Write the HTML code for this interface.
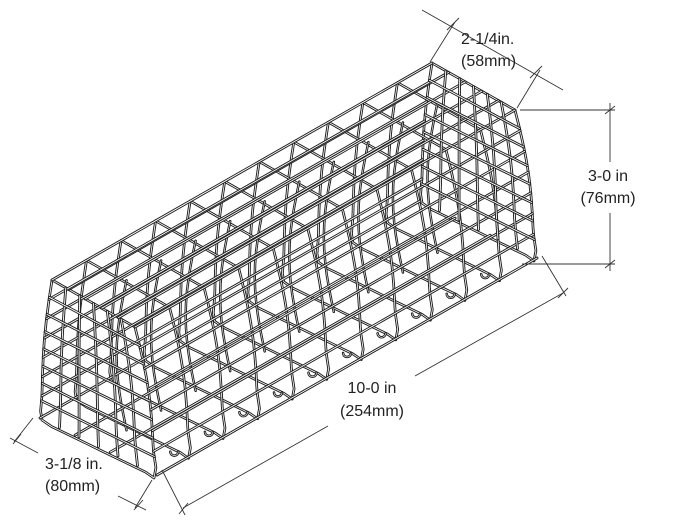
<!DOCTYPE html>
<html><head><meta charset="utf-8"><style>
html,body{margin:0;padding:0;background:#fff;width:684px;height:524px;overflow:hidden}
svg{display:block}
text{font-family:"Liberation Sans",sans-serif;font-size:16px;fill:#222}
</style></head><body>
<svg id="s" width="684" height="524" viewBox="0 0 684 524" xmlns="http://www.w3.org/2000/svg">
<g id="cage" fill="none" stroke-linejoin="round" stroke-linecap="round"></g>
<g stroke="#333" stroke-width="0.9" fill="none">
<line x1="430" y1="62" x2="455" y2="22"/>
<line x1="517" y1="108" x2="540" y2="70"/>
<line x1="422" y1="10" x2="563" y2="90"/>
<line x1="447" y1="30" x2="459" y2="18"/>
<line x1="530" y1="78" x2="542" y2="66"/>
<line x1="520" y1="110" x2="615" y2="110"/>
<line x1="522" y1="264" x2="615" y2="264"/>
<line x1="610" y1="103" x2="610" y2="162"/>
<line x1="610" y1="213" x2="610" y2="271"/>
<line x1="605" y1="114" x2="615" y2="106"/>
<line x1="605" y1="268" x2="615" y2="260"/>
<line x1="162" y1="470" x2="185" y2="515"/>
<line x1="542" y1="256" x2="566" y2="296"/>
<line x1="183" y1="508" x2="328" y2="426"/>
<line x1="415" y1="376" x2="563" y2="293"/>
<line x1="179" y1="514" x2="188" y2="503"/>
<line x1="558" y1="298" x2="568" y2="288"/>
<line x1="33" y1="418" x2="14" y2="442"/>
<line x1="152" y1="480" x2="135" y2="508"/>
<line x1="10" y1="438" x2="38" y2="453"/>
<line x1="118" y1="496" x2="146" y2="510"/>
<line x1="13" y1="444" x2="21" y2="434"/>
<line x1="134" y1="510" x2="143" y2="500"/>
</g>
<text x="461" y="44">2-1/4in.</text>
<text x="461" y="66">(58mm)</text>
<text x="608" y="181" text-anchor="middle">3-0 in</text>
<text x="608" y="203" text-anchor="middle">(76mm)</text>
<text x="372" y="393" text-anchor="middle">10-0 in</text>
<text x="372" y="416" text-anchor="middle">(254mm)</text>
<text x="45" y="469">3-1/8 in.</text>
<text x="45" y="491">(80mm)</text>
</svg>
<script>
(function(){
var g=document.getElementById('cage');
var L=[380,-217];
function lerp(a,b,t){return [a[0]+(b[0]-a[0])*t,a[1]+(b[1]-a[1])*t];}
var TL=[52,280],TR=[135,327],BL=[40,418],BR=[157,475];
function side(v,left){
  var a=left?TL:TR,b=left?BL:BR;
  var p=lerp(a,b,v);
  var bul=Math.sin(Math.PI*Math.min(v*1.2,1))*4;
  if(left)p[0]-=bul*0.6; else p[0]+=bul;
  return p;
}
function face(u,v){var l=side(v,true),r=side(v,false);return lerp(l,r,u);}
function add(pts,off,w){
  var d='';
  pts.forEach(function(p,i){d+=(i?'L':'M')+(p[0]+off[0]).toFixed(1)+' '+(p[1]+off[1]).toFixed(1);});
  var a=document.createElementNS('http://www.w3.org/2000/svg','path');
  a.setAttribute('d',d);a.setAttribute('stroke','#1e1e1e');a.setAttribute('stroke-width',w||2.8);
  g.appendChild(a);
  var b=document.createElementNS('http://www.w3.org/2000/svg','path');
  b.setAttribute('d',d);b.setAttribute('stroke','#fff');b.setAttribute('stroke-width',(w||2.8)-1.9);
  g.appendChild(b);
}
function ring(){
  var p=[];var i;
  for(i=0;i<=10;i++)p.push(face(i/10,0));
  for(i=1;i<=19;i++)p.push(face(1,i/20));
  p.push([BR[0]-3,BR[1]+3]);
  for(i=9;i>=1;i--)p.push(face(i/10,1.02));
  p.push([BL[0]+2,BL[1]+2]);
  for(i=19;i>=0;i--)p.push(face(0,i/20));
  return p;
}
var R=ring();
var N=11;
var k;
var longPts=[];
[0,0.2,0.4,0.6,0.8,1].forEach(function(u){longPts.push(face(u,0));});
[0.14,0.28,0.42,0.56,0.7,0.84,1].forEach(function(v){longPts.push(face(1,v));longPts.push(face(0,v));});
[0.3,0.6].forEach(function(u){longPts.push(face(u,1));});
for(k=N;k>=0;k--){add(R,[L[0]*k/N,L[1]*k/N],2.7);}
for(k=1;k<N;k++){
  var off2=[L[0]*k/N,L[1]*k/N];
  var arc=[];
  for(var i=0;i<=12;i++){var t=i/12;arc.push([92-Math.sin(Math.PI*t)*10+off2[0], 300+t*150+off2[1]]);}
  add(arc,[0,0],2.5);
}
longPts.forEach(function(p){add([p,[p[0]+L[0],p[1]+L[1]]],[0,0],2.8);});
[[0,0],L].forEach(function(off){
  var i,j,pts;
  for(i=1;i<=5;i++){pts=[];for(j=0;j<=10;j++)pts.push(face(i/6,j/10));add(pts,off,2.8);}
  for(i=1;i<=7;i++){pts=[];for(j=0;j<=6;j++)pts.push(face(j/6,i/8));add(pts,off,2.8);}
});
for(k=1;k<N;k++){
  var o=[L[0]*k/N,L[1]*k/N];
  var c=face(0.85,1.02);
  var lp=[];for(var a=0;a<=8;a++){var th=Math.PI*a/8;lp.push([c[0]+4*Math.cos(th)+o[0],c[1]+4*Math.sin(th)+o[1]+2]);}
  add(lp,[0,0],2.5);
}
})();
</script>
</body></html>
